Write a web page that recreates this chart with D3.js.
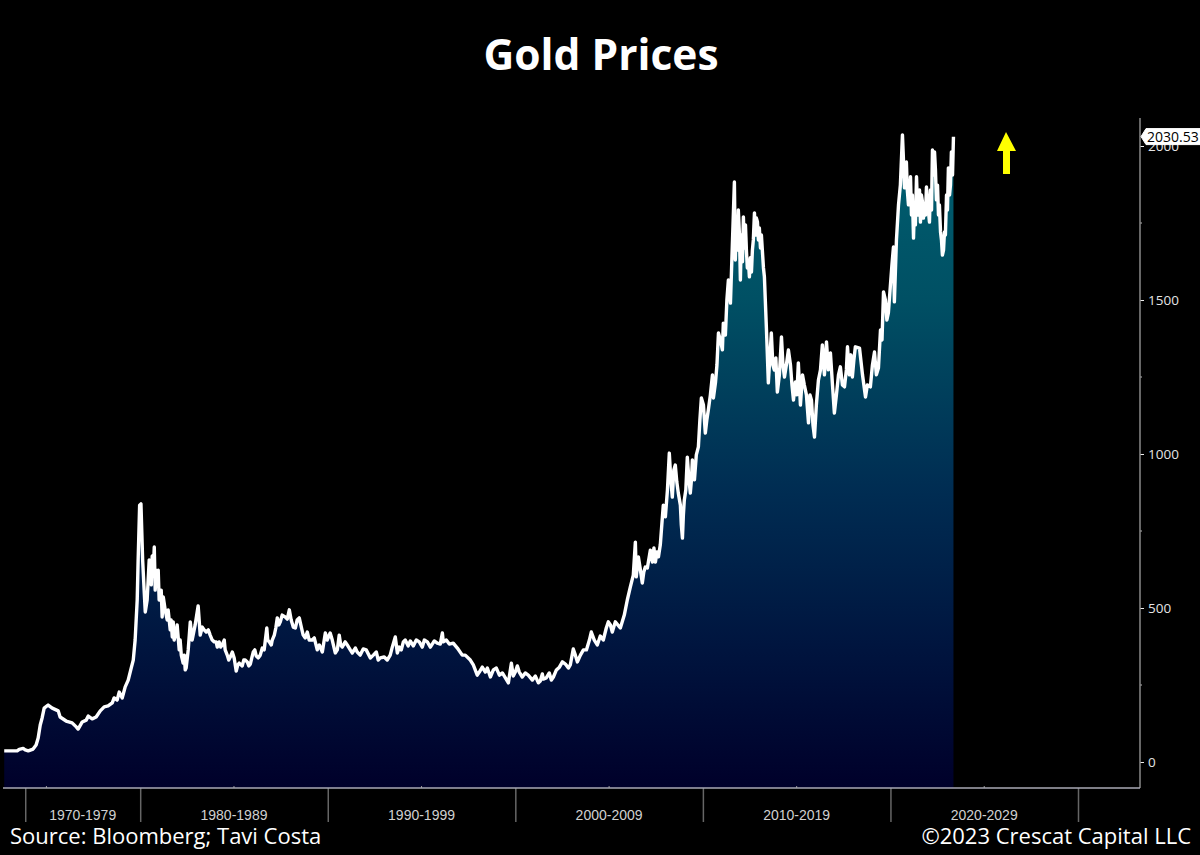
<!DOCTYPE html>
<html>
<head>
<meta charset="utf-8">
<title>Gold Prices</title>
<script src="https://cdn.jsdelivr.net/npm/d3@7/dist/d3.min.js"></script>
<style>
  html, body { margin: 0; padding: 0; background: #000; }
  svg { display: block; font-family: 'Open Sans', sans-serif; }
</style>
</head>
<body>
<svg id="chart" width="1200" height="855"></svg>
<script>
const years = [
  1972.75, 1973.44, 1973.55, 1973.76, 1973.87, 1974.03, 1974.29, 1974.45, 1974.56, 1974.67,
  1974.77, 1974.88, 1975.09, 1975.31, 1975.63, 1975.73, 1976.05, 1976.37, 1976.59, 1976.69,
  1976.91, 1977.12, 1977.23, 1977.44, 1977.65, 1977.87, 1978.08, 1978.29, 1978.51, 1978.61,
  1978.77, 1978.88, 1979.04, 1979.2, 1979.36, 1979.52, 1979.63, 1979.73, 1979.84, 1979.89,
  1979.97, 1980.04, 1980.13, 1980.21, 1980.27, 1980.37, 1980.48, 1980.53, 1980.64, 1980.75,
  1980.85, 1980.96, 1981.07, 1981.17, 1981.23, 1981.44, 1981.6, 1981.71, 1981.76, 1981.92,
  1982.08, 1982.19, 1982.29, 1982.45, 1982.56, 1982.67, 1982.77, 1982.93, 1983.09, 1983.2,
  1983.31, 1983.52, 1983.73, 1983.95, 1984.11, 1984.21, 1984.37, 1984.48, 1984.64, 1984.8,
  1985.01, 1985.12, 1985.28, 1985.44, 1985.6, 1985.71, 1985.87, 1986.03, 1986.19, 1986.4,
  1986.61, 1986.75, 1986.88, 1987.04, 1987.15, 1987.31, 1987.47, 1987.73, 1987.95, 1988.16,
  1988.37, 1988.59, 1988.8, 1988.91, 1989.17, 1989.44, 1989.71, 1989.87, 1990.13, 1990.4,
  1990.61, 1990.77, 1990.93, 1991.2, 1991.47, 1991.73, 1991.89, 1992.27, 1992.59, 1992.8,
  1993.17, 1993.44, 1993.6, 1993.71, 1994.03, 1994.29, 1994.72, 1995.04, 1995.31, 1995.84,
  1996.11, 1996.16, 1996.69, 1997.17, 1997.6, 1997.97, 1998.24, 1998.67, 1998.83, 1999.31,
  1999.63, 1999.79, 1999.89, 2000.11, 2000.37, 2000.53, 2000.91, 2001.23, 2001.44, 2001.49,
  2001.81, 2002.03, 2002.51, 2002.83, 2003.09, 2003.31, 2003.63, 2004.05, 2004.37, 2004.96,
  2005.17, 2005.6, 2006.13, 2006.4, 2006.45, 2006.56, 2006.77, 2006.93, 2007.2, 2007.47,
  2007.63, 2007.89, 2008.0, 2008.21, 2008.37, 2008.53, 2008.69, 2008.91, 2009.01, 2009.17,
  2009.33, 2009.44, 2009.55, 2009.76, 2009.92, 2010.13, 2010.29, 2010.51, 2010.56, 2010.67,
  2010.83, 2011.04, 2011.09, 2011.36, 2011.47, 2011.68, 2011.73, 2011.89, 2012.0, 2012.16,
  2012.32, 2012.48, 2012.64, 2012.75, 2012.91, 2013.17, 2013.28, 2013.39, 2013.49, 2013.65,
  2013.81, 2013.97, 2014.19, 2014.35, 2014.56, 2014.83, 2015.09, 2015.2, 2015.41, 2015.63,
  2015.79, 2015.95, 2016.16, 2016.59, 2016.8, 2017.01, 2017.33, 2017.55, 2017.71, 2017.97,
  2018.13, 2018.35, 2018.67, 2018.93, 2019.15, 2019.36, 2019.63, 2019.89, 2020.16, 2020.21,
  2020.43, 2020.64, 2020.69, 2020.75, 2020.85, 2020.96, 2021.07, 2021.23, 2021.39, 2021.49,
  2021.71, 2021.76, 2021.92, 2022.03, 2022.24, 2022.35, 2022.51, 2022.67, 2022.77, 2022.88,
  2023.09, 2023.2, 2023.25, 2023.36,
];

const prices = [
  36, 36, 41, 44, 39, 36, 42, 55, 78, 120,
  143, 175, 185, 175, 166, 146, 133, 127, 114, 107,
  130, 136, 149, 140, 146, 166, 179, 182, 192, 208,
  201, 227, 208, 244, 266, 305, 331, 396, 526, 656,
  834, 838, 656, 558, 487, 526, 656, 607, 669, 698,
  623, 623, 558, 471, 536, 461, 429, 406, 455, 422,
  364, 347, 321, 305, 364, 455, 396, 445, 507, 412,
  438, 422, 412, 390, 373, 390, 380, 396, 347, 341,
  338, 295, 321, 312, 331, 325, 318, 357, 344, 347,
  364, 435, 390, 396, 412, 468, 455, 471, 494, 438,
  461, 438, 403, 422, 396, 364, 357, 419, 419, 354,
  412, 373, 390, 364, 370, 347, 367, 338, 357, 338,
  331, 373, 406, 354, 390, 377, 396, 373, 390, 386,
  419, 390, 386, 347, 331, 282, 308, 276, 299, 289,
  257, 321, 279, 312, 276, 289, 266, 257, 286, 269,
  289, 276, 325, 305, 367, 325, 364, 422, 380, 455,
  422, 435, 568, 714, 601, 666, 581, 633, 688, 649,
  666, 834, 796, 1003, 860, 964, 873, 727, 851, 990,
  873, 981, 916, 1023, 1182, 1068, 1143, 1257, 1182, 1231,
  1393, 1338, 1425, 1565, 1490, 1883, 1630, 1792, 1565, 1770,
  1662, 1575, 1662, 1783, 1753, 1662, 1575, 1403, 1231, 1393,
  1273, 1201, 1380, 1250, 1338, 1175, 1296, 1159, 1224, 1101,
  1175, 1055, 1240, 1364, 1328, 1133, 1283, 1218, 1348, 1250,
  1348, 1344, 1185, 1218, 1331, 1279, 1526, 1458, 1672, 1494,
  1809, 2036, 1961, 1864, 1948, 1809, 1900, 1701, 1900, 1776,
  1818, 1766, 1867, 1786, 1987, 1981, 1873, 1721, 1646, 1721,
  1929, 1873, 1981, 2030,
];

// second pass over the picture: the jagged readings between the points above
const detailYears = [
  1980.59, 1980.69, 1980.8, 1980.91, 1981.01, 1981.12, 1981.33, 1981.49, 1981.65, 1981.81,
  1981.97, 1982.13, 1982.35, 1982.4, 1983.41, 1983.63, 1983.84, 1984.05, 1984.29, 1984.53,
  1984.72, 1984.91, 1985.2, 1985.52, 1985.79, 1985.95, 1986.11, 1986.29, 1986.51, 1986.8,
  1986.99, 1987.23, 1987.39, 1987.57, 1987.84, 1988.05, 1988.27, 1988.48, 1988.69, 1989.01,
  1989.28, 1989.55, 1989.97, 1990.24, 1990.51, 1990.69, 1991.04, 1991.31, 1991.57, 1991.81,
  1992.05, 1992.43, 1992.69, 1993.01, 1993.33, 1993.81, 1993.92, 1994.13, 1994.4, 1994.56,
  1994.88, 1995.15, 1995.47, 1995.68, 1996.0, 1996.32, 1996.48, 1996.91, 1997.33, 1997.76,
  1998.08, 1998.4, 1998.51, 1998.99, 1999.15, 1999.47, 2000.0, 2000.21, 2000.69, 2001.07,
  2001.33, 2001.65, 2001.92, 2002.19, 2002.35, 2002.67, 2002.93, 2003.2, 2003.47, 2003.79,
  2003.95, 2004.21, 2004.53, 2004.69, 2004.85, 2005.07, 2005.33, 2005.81, 2005.97, 2006.29,
  2006.67, 2006.85, 2007.04, 2007.31, 2007.39, 2007.55, 2007.73, 2007.81, 2008.11, 2008.29,
  2008.45, 2008.61, 2008.8, 2008.85, 2008.96, 2009.09, 2009.25, 2009.39, 2009.65, 2009.84,
  2010.03, 2010.21, 2010.4, 2010.75, 2010.93, 2011.2, 2011.28, 2011.79, 2011.84, 2011.95,
  2012.05, 2012.11, 2012.21, 2012.27, 2012.37, 2012.43, 2012.53, 2012.59, 2012.69, 2012.8,
  2012.85, 2012.96, 2013.01, 2013.07, 2013.12, 2013.23, 2013.73, 2013.89, 2014.08, 2014.27,
  2014.45, 2014.67, 2014.75, 2014.93, 2015.01, 2015.31, 2015.52, 2015.71, 2015.87, 2016.05,
  2016.27, 2016.37, 2016.48, 2016.69, 2016.91, 2017.12, 2017.23, 2017.44, 2017.65, 2017.81,
  2017.89, 2018.05, 2018.51, 2018.77, 2019.04, 2019.25, 2019.47, 2019.55, 2019.73, 2019.81,
  2020.0, 2020.08, 2020.32, 2020.53, 2020.8, 2020.9, 2021.01, 2021.12, 2021.17, 2021.28,
  2021.33, 2021.44, 2021.55, 2021.6, 2021.65, 2021.81, 2021.87, 2021.97, 2022.08, 2022.13,
  2022.19, 2022.29, 2022.4, 2022.45, 2022.56, 2022.61, 2022.72, 2022.83, 2022.93, 2022.99,
  2023.04, 2023.15, 2023.31,
];

const detailPrices = [
  575, 607, 558, 575, 526, 558, 494, 494, 461, 396,
  445, 396, 347, 299, 429, 429, 396, 390, 373, 364,
  331, 357, 315, 331, 312, 338, 364, 338, 370, 396,
  380, 435, 445, 477, 464, 461, 435, 468, 412, 396,
  403, 380, 396, 396, 364, 380, 380, 354, 357, 357,
  364, 347, 331, 341, 347, 373, 364, 396, 393, 377,
  390, 396, 373, 393, 383, 396, 383, 370, 347, 315,
  292, 292, 305, 305, 282, 273, 292, 292, 282, 279,
  263, 273, 266, 299, 308, 318, 315, 347, 347, 364,
  396, 396, 409, 396, 435, 445, 455, 477, 526, 607,
  623, 617, 630, 649, 695, 682, 705, 770, 883, 916,
  948, 909, 834, 770, 802, 883, 922, 916, 997, 1110,
  1159, 1110, 1192, 1289, 1370, 1386, 1500, 1753, 1662, 1711,
  1711, 1624, 1669, 1744, 1604, 1624, 1637, 1591, 1695, 1711,
  1766, 1695, 1734, 1669, 1711, 1604, 1289, 1312, 1257, 1289,
  1289, 1289, 1224, 1234, 1192, 1257, 1192, 1192, 1094, 1159,
  1273, 1354, 1257, 1273, 1224, 1192, 1257, 1224, 1273, 1257,
  1322, 1305, 1257, 1224, 1289, 1257, 1403, 1370, 1500, 1435,
  1549, 1614, 1695, 1874, 1916, 1857, 1825, 1776, 1841, 1809,
  1744, 1809, 1857, 1753, 1841, 1809, 1776, 1809, 1753, 1857,
  1792, 1906, 1922, 1825, 1776, 1809, 1695, 1662, 1711, 1841,
  1792, 1841, 1906,
];

const lastPrice = '2030.53';
const priceTicks = [0, 500, 1000, 1500, 2000];
const priceMinorTicks = [250, 750, 1250, 1750];
const decadeTicks = [1973.87, 1980, 1990, 2000, 2010, 2020, 2030];
const midDecadeTicks = [1975, 1985, 1995, 2005, 2015, 2025];
const decadeLabels = ['1970-1979', '1980-1989', '1990-1999', '2000-2009', '2010-2019', '2020-2029'];

const svg = d3.select('#chart');

const plotLeft = 3;
const plotRight = 1140;
const plotTop = 118;
const plotBottom = 788;

const xScale = d3.scaleLinear().domain([1980, 2030]).range([140.2, 1078]);
const yScale = d3.scaleLinear().domain([0, 2000]).range([762, 146]);

const points = years.map((year, i) => ({ year, price: prices[i] }))
  .concat(detailYears.map((year, i) => ({ year, price: detailPrices[i] })))
  .sort((a, b) => a.year - b.year);

// fill runs from teal at the top to near black navy at the axis
const gradient = svg.append('defs').append('linearGradient')
  .attr('id', 'goldFill')
  .attr('gradientUnits', 'userSpaceOnUse')
  .attr('x1', 0).attr('x2', 0)
  .attr('y1', 135).attr('y2', plotBottom);
gradient.append('stop').attr('offset', '0%').attr('stop-color', '#005f70');
gradient.append('stop').attr('offset', '25%').attr('stop-color', '#005064');
gradient.append('stop').attr('offset', '55%').attr('stop-color', '#002c52');
gradient.append('stop').attr('offset', '78%').attr('stop-color', '#00153f');
gradient.append('stop').attr('offset', '100%').attr('stop-color', '#00002a');

const area = d3.area()
  .x((d) => xScale(d.year))
  .y0(plotBottom)
  .y1((d) => yScale(d.price));

const line = d3.line()
  .x((d) => xScale(d.year))
  .y((d) => yScale(d.price));

svg.append('path').datum(points).attr('d', area).attr('fill', 'url(#goldFill)');

svg.append('path').datum(points)
  .attr('d', line)
  .attr('fill', 'none')
  .attr('stroke', '#fff')
  .attr('stroke-width', 3.4)
  .attr('stroke-linejoin', 'round');

// axes
const yAxisG = svg.append('g').attr('transform', `translate(${plotRight},0)`);
yAxisG.call(d3.axisRight(yScale).tickValues(priceTicks).tickSize(4).tickPadding(4).tickFormat(d3.format('d')))
  .attr('font-family', null)
  .attr('font-size', 13.5);
yAxisG.select('.domain').remove();
yAxisG.selectAll('.tick line').attr('stroke', '#eee');
yAxisG.selectAll('.tick text').attr('fill', '#e4e4e4');
yAxisG.selectAll('.minor').data(priceMinorTicks).join('line')
  .attr('class', 'minor')
  .attr('x1', 0).attr('x2', 2)
  .attr('y1', (d) => yScale(d)).attr('y2', (d) => yScale(d))
  .attr('stroke', '#bbb');

svg.append('line')
  .attr('x1', plotRight).attr('x2', plotRight)
  .attr('y1', plotTop).attr('y2', plotBottom)
  .attr('stroke', '#8a8a8a').attr('stroke-width', 1.5);

const xAxisG = svg.append('g').attr('transform', `translate(0,${plotBottom})`);
xAxisG.call(d3.axisBottom(xScale).tickValues(decadeTicks).tickSize(34).tickFormat(''));
xAxisG.select('.domain').remove();
xAxisG.selectAll('.tick line').attr('stroke', '#666').attr('stroke-width', 1.5);
xAxisG.selectAll('.mid').data(midDecadeTicks).join('line')
  .attr('class', 'mid')
  .attr('x1', (d) => xScale(d)).attr('x2', (d) => xScale(d))
  .attr('y1', 0).attr('y2', -2)
  .attr('stroke', '#999');

svg.append('line')
  .attr('x1', plotLeft).attr('x2', plotRight)
  .attr('y1', plotBottom).attr('y2', plotBottom)
  .attr('stroke', '#a9a9b4').attr('stroke-width', 1.3);

xAxisG.selectAll('.decade').data(decadeLabels).join('text')
  .attr('class', 'decade')
  .attr('x', (d, i) => (xScale(decadeTicks[i]) + xScale(decadeTicks[i + 1])) / 2)
  .attr('y', 32)
  .attr('text-anchor', 'middle')
  .attr('fill', '#d0d0d0')
  .attr('font-size', 14)
  .text((d) => d);

// last price flag
const flagY = yScale(+lastPrice);
const flag = svg.append('g').attr('transform', `translate(1141,${flagY})`);
flag.append('path')
  .attr('d', 'M0,0 L5,-8 H59 V8 H5 Z')
  .attr('fill', '#fff')
  .attr('stroke', '#fff')
  .attr('stroke-linejoin', 'round');
flag.append('text')
  .attr('x', 6)
  .attr('y', 5)
  .attr('fill', '#000')
  .attr('font-size', 14)
  .text(lastPrice);

// yellow arrow
svg.append('polygon')
  .attr('points', '1006,132 1016,151 1010,151 1010,174 1003,174 1003,151 997,151')
  .attr('fill', '#ffff00');

svg.append('text')
  .attr('x', 601)
  .attr('y', 70)
  .attr('text-anchor', 'middle')
  .attr('fill', '#fff')
  .attr('font-size', 42.5)
  .attr('font-weight', 700)
  .text('Gold Prices');

svg.append('text')
  .attr('x', 10)
  .attr('y', 844)
  .attr('fill', '#fff')
  .attr('font-size', 22)
  .text('Source: Bloomberg; Tavi Costa');

svg.append('text')
  .attr('x', 1191)
  .attr('y', 844)
  .attr('text-anchor', 'end')
  .attr('fill', '#fff')
  .attr('font-size', 22)
  .text('©2023 Crescat Capital LLC');
</script>
</body>
</html>
